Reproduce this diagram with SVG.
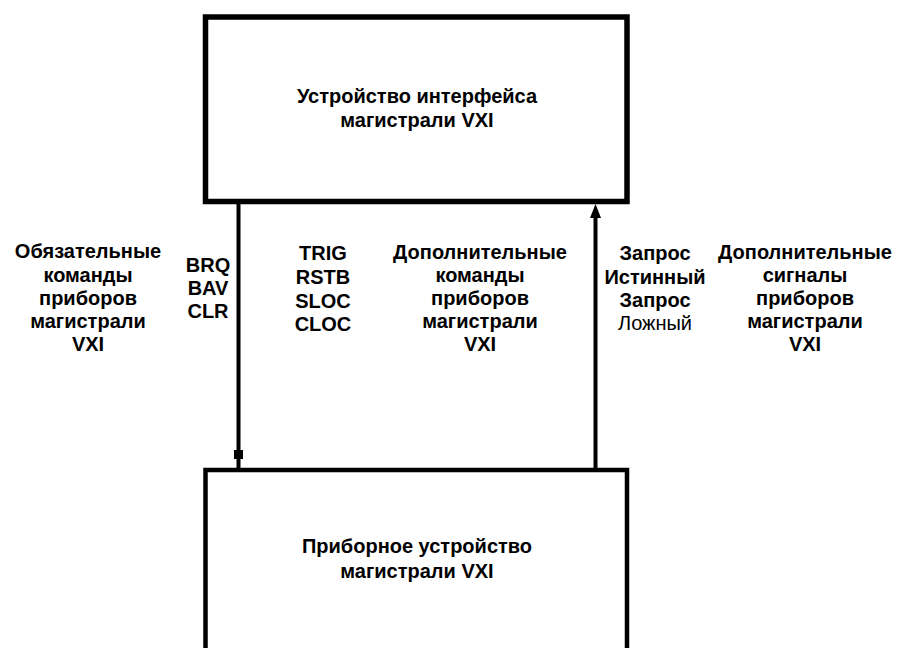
<svg xmlns="http://www.w3.org/2000/svg" width="898" height="648" viewBox="0 0 898 648">
<style>
text{font-family:"Liberation Sans","Arial",sans-serif;font-weight:bold;font-size:20px;fill:#000;text-anchor:middle}
.box{fill:#fff;stroke:#000}
.conn{stroke:#000;stroke-width:4;fill:none}
</style>
<rect x="0" y="0" width="898" height="648" fill="#fff"/>
<g id="interface">
<rect class="box" x="205.5" y="17" width="421.5" height="184.5" stroke-width="5.5"/>
<text x="417" y="103">Устройство интерфейса</text>
<text x="417" y="127">магистрали VXI</text>
</g>
<g id="device">
<path class="box" d="M205.5,700 V470 H627 V700" stroke-width="4.5"/>
<text x="417" y="553">Приборное устройство</text>
<text x="417" y="578">магистрали VXI</text>
</g>
<g id="connectors">
<line class="conn" x1="238.5" y1="204" x2="238.5" y2="468"/>
<rect x="234" y="450" width="9" height="9" fill="#000"/>
<line class="conn" x1="595.5" y1="214" x2="595.5" y2="468"/>
<polygon points="595.5,204 590,218 601,218" fill="#000"/>
</g>
<g id="labels">
<text x="88" y="258">Обязательные</text>
<text x="88" y="282">команды</text>
<text x="88" y="305">приборов</text>
<text x="88" y="328">магистрали</text>
<text x="88" y="351">VXI</text>
<text x="208" y="272">BRQ</text>
<text x="208" y="295">BAV</text>
<text x="208" y="318">CLR</text>
<text x="323" y="260">TRIG</text>
<text x="323" y="284">RSTB</text>
<text x="323" y="308">SLOC</text>
<text x="323" y="331">CLOC</text>
<text x="480" y="259">Дополнительные</text>
<text x="480" y="282">команды</text>
<text x="480" y="305">приборов</text>
<text x="480" y="328">магистрали</text>
<text x="480" y="351">VXI</text>
<text x="655" y="260">Запрос</text>
<text x="655" y="284">Истинный</text>
<text x="655" y="307">Запрос</text>
<text x="655" y="330" style="font-weight:normal">Ложный</text>
<text x="805" y="259">Дополнительные</text>
<text x="805" y="282">сигналы</text>
<text x="805" y="305">приборов</text>
<text x="805" y="328">магистрали</text>
<text x="805" y="351">VXI</text>
</g>
</svg>
